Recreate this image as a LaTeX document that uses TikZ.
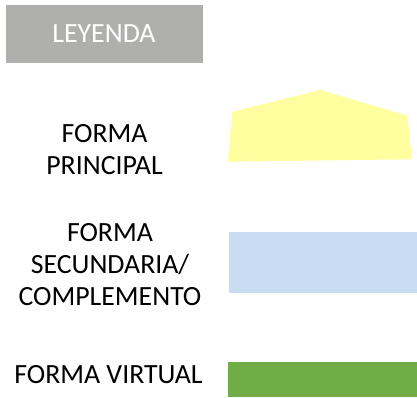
\documentclass[tikz,border=0pt]{standalone}
\usepackage{fontspec}
\setmainfont{Carlito}
\definecolor{legendgray}{HTML}{AFB0AE}
\definecolor{mainyellow}{HTML}{FFFFA0}
\definecolor{secblue}{HTML}{C8DDF1}
\definecolor{virtgreen}{HTML}{70AD47}
\tikzset{
  lbl/.style={align=center, font=\fontsize{27.8}{32}\selectfont, inner sep=0pt, text=black},
}
\begin{document}
\begin{tikzpicture}[x=1pt,y=-1pt]
\useasboundingbox (0,0) rectangle (417,398);
\fill[legendgray] (6,5) rectangle (203,63);
\node[lbl, text=white] (leyenda) at (104,34) {LEYENDA};
\node[lbl] (principal) at (104.5,150) {FORMA\\PRINCIPAL};
\node[lbl] (secundaria) at (110,265) {FORMA\\SECUNDARIA/\\COMPLEMENTO};
\node[lbl] (virtual) at (108.5,374.5) {FORMA VIRTUAL};
\fill[mainyellow] (232.3,111.7) -- (320,90) -- (407.3,115.7) -- (411.7,159.3) -- (227.7,161.7) -- cycle;
\fill[secblue] (229,232) rectangle (416.7,293.3);
\fill[virtgreen] (227.7,362) rectangle (416.7,396.7);
\end{tikzpicture}
\end{document}
